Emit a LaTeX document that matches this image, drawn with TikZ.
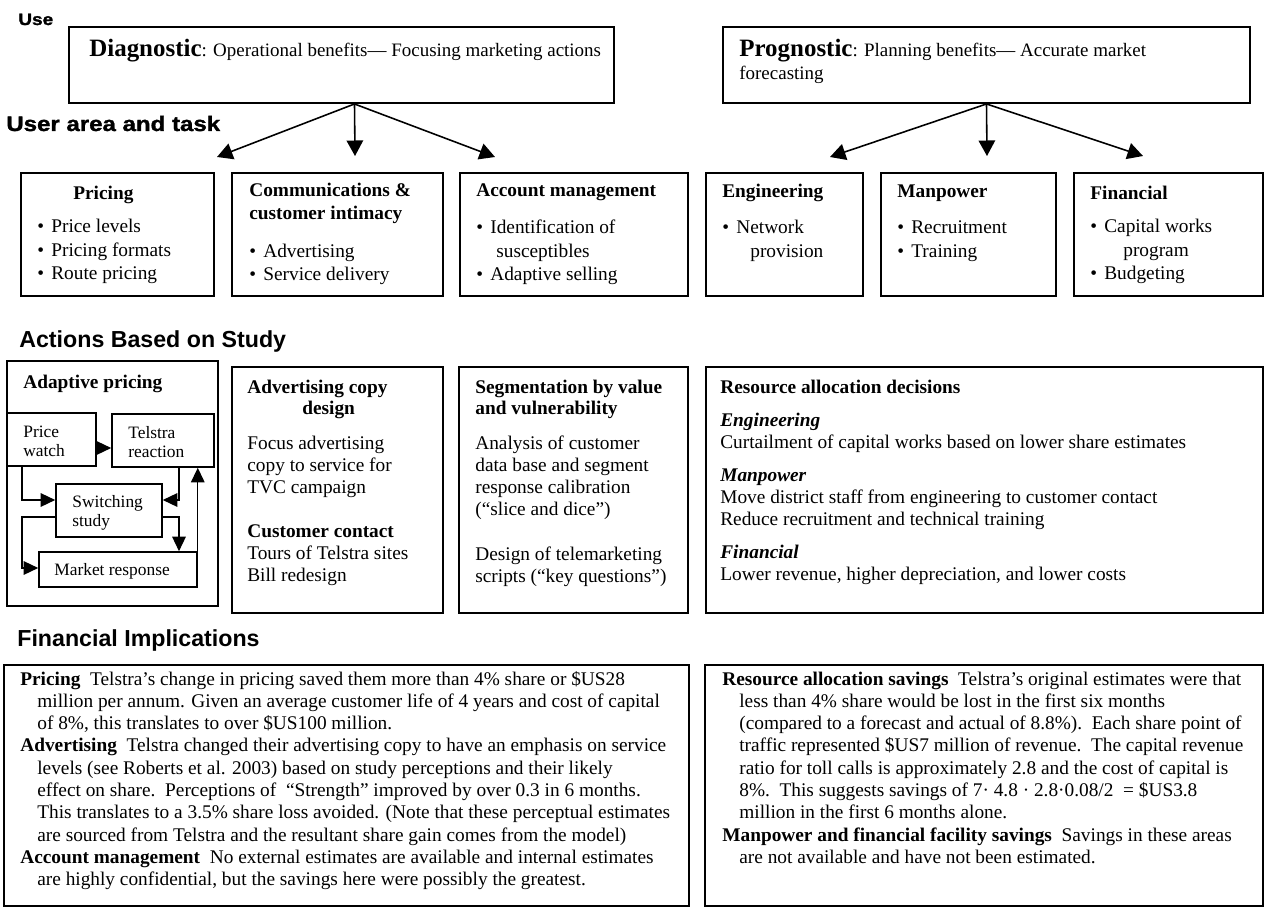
\documentclass[tikz,border=0pt]{standalone}
\usepackage{fontspec}
\setmainfont{Liberation Serif}
\setsansfont{Liberation Sans}
\newfontfamily\blackfont{Liberation Sans}[FakeStretch=1.15,BoldFeatures={FakeBold=1.5}]
\usetikzlibrary{arrows.meta,fit}
\newcommand{\kindname}[1]{{\bfseries\fontsize{14.2}{16}\selectfont #1}}
\newcommand{\bul}{\makebox[0.28cm][l]{\textbullet}}
\newcommand{\ind}{\hspace*{0.34cm}}
\newcommand{\lines}[1]{\begin{tabular}[t]{@{}l@{}}#1\end{tabular}}
\tikzset{
  panel/.style={draw, line width=1.1pt, inner sep=0pt, fit={#1}},
  cell/.style={draw, line width=0.9pt, inner sep=0pt, fit={#1}},
  txt/.style={inner sep=0pt, anchor=base west, font=\fontsize{11}{12.7}\selectfont},
  small/.style={txt, font=\fontsize{9.9}{11.3}\selectfont},
  head/.style={inner sep=0pt, anchor=base west, font=\sffamily\bfseries\fontsize{13.2}{15}\selectfont},
  heavy/.style={inner sep=0pt, anchor=base west, font=\blackfont\bfseries\fontsize{11.9}{14}\selectfont},
  arr/.style={-{Triangle[length=0.29cm,width=0.27cm]}, line width=0.8pt},
  bigarr/.style={-{Triangle[length=0.31cm,width=0.33cm]}, line width=0.9pt}
}
\begin{document}
\begin{tikzpicture}[x=0.02cm, y=-0.02cm]
\useasboundingbox (0,0) rectangle (1265,909);
% use
\node (use) [heavy, font=\blackfont\bfseries\fontsize{9.4}{11}\selectfont] at (18,25) {Use};
\node (diag) [panel={(69,27) (614,103)}] {};
\node (diagtxt) [txt, font=\fontsize{10.8}{13}\selectfont] at (89,57) {\kindname{Diagnostic}: Operational benefits— Focusing marketing actions};
\node (prog) [panel={(723,27) (1250,103)}] {};
\node (progtxt) [txt, font=\fontsize{10.8}{13}\selectfont] at (739,57) {\lines{\kindname{Prognostic}: Planning benefits— Accurate market\\forecasting}};
% user area and task
\node (area) [heavy] at (6,131) {User area and task};
\coordinate (d1) at (217,157);
\coordinate (d2) at (355,156);
\coordinate (d3) at (495,157);
\coordinate (p1) at (830,157);
\coordinate (p2) at (987,156);
\coordinate (p3) at (1143,156);
\draw[bigarr] ([xshift=0.26cm]diag.south) -- (d1);
\draw[bigarr] ([xshift=0.26cm]diag.south) -- (d2);
\draw[bigarr] ([xshift=0.26cm]diag.south) -- (d3);
\draw[bigarr] (prog.south) -- (p1);
\draw[bigarr] (prog.south) -- (p2);
\draw[bigarr] (prog.south) -- (p3);

\node (pricing) [panel={(21,173) (214,296)}] {};
\node (comm) [panel={(232,173) (443,296)}] {};
\node (acct) [panel={(460,173) (688,296)}] {};
\node (engg) [panel={(706,173) (863,296)}] {};
\node (manp) [panel={(881,173) (1056,296)}] {};
\node (fin) [panel={(1074,173) (1263,296)}] {};
\node (pricingt) [txt] at (73,199) {\textbf{Pricing}};
\node (pricingl) [txt, font=\fontsize{11}{13.3}\selectfont] at (37,233) {\lines{\bul Price levels\\\bul Pricing formats\\\bul Route pricing}};
\node (commt) [txt, font=\fontsize{11}{13.6}\selectfont] at (249,196) {\lines{\textbf{Communications \&}\\\textbf{customer intimacy}}};
\node (comml) [txt, font=\fontsize{11}{13.3}\selectfont] at (249,257) {\lines{\bul Advertising\\\bul Service delivery}};
\node (acctt) [txt] at (476,196) {\textbf{Account management}};
\node (acctl) [txt, font=\fontsize{11}{13.1}\selectfont] at (476,234) {\lines{\bul Identification of\\\hspace*{0.4cm}susceptibles\\\bul Adaptive selling}};
\node (enggt) [txt] at (722,197) {\textbf{Engineering}};
\node (enggl) [txt, font=\fontsize{11}{13.1}\selectfont] at (722,234) {\lines{\bul Network\\\hspace*{0.56cm}provision}};
\node (manpt) [txt] at (897,197) {\textbf{Manpower}};
\node (manpl) [txt, font=\fontsize{11}{13.1}\selectfont] at (897,234) {\lines{\bul Recruitment\\\bul Training}};
\node (fint) [txt] at (1090,199) {\textbf{Financial}};
\node (finl) [txt, font=\fontsize{11}{13.3}\selectfont] at (1090,233) {\lines{\bul Capital works\\\hspace*{0.66cm}program\\\bul Budgeting}};

% actions based on study
\node (actions) [head] at (19,347) {Actions Based on Study};
\node (adapt) [panel={(7,361) (218,606)}] {};
\node (adaptt) [txt] at (23,388) {\textbf{Adaptive pricing}};
\node (pw) [cell={(7,413) (96,466)}] {};
\node (tr) [cell={(112,414) (214,467)}] {};
\node (sw) [cell={(56,484) (162,537)}] {};
\node (mr) [cell={(39,552) (197,587)}] {};
\node (pwt) [small] at (23,437) {\lines{Price\\watch}};
\node (trt) [small] at (128,438) {\lines{Telstra\\reaction}};
\node (swt) [small] at (72,507) {\lines{Switching\\study}};
\node (mrt) [small] at (54,575) {Market response};
\draw[arr] (pw.east |- 0,448) -- (tr.west |- 0,448);
\draw[arr] (22,0 |- pw.south) |- (sw.west |- 0,500);
\draw[arr] (179,0 |- tr.south) |- (sw.east |- 0,500);
\draw[arr] (sw.east |- 0,517) -| (179,0 |- mr.north);
\draw[arr] (sw.west |- 0,517) -| (22,568) -- (mr.west |- 0,568);
\draw[arr] (mr.north east) -- (mr.north east |- tr.south);

\node (adv) [panel={(232,367) (443,613)}] {};
\node (advt) [txt, font=\fontsize{11}{12.1}\selectfont] at (247,393) {\lines{\textbf{Advertising copy}\\\hspace*{1.1cm}\textbf{design}}};
\node (advl) [txt, font=\fontsize{11}{12.6}\selectfont] at (247,449) {\lines{Focus advertising\\copy to service for\\TVC campaign\\[12.5pt]\textbf{Customer contact}\\Tours of Telstra sites\\Bill redesign}};
\node (seg) [panel={(459,367) (688,613)}] {};
\node (segt) [txt, font=\fontsize{11}{12.1}\selectfont] at (475,393) {\lines{\textbf{Segmentation by value}\\\textbf{and vulnerability}}};
\node (segl) [txt, font=\fontsize{11}{12.6}\selectfont] at (475,449) {\lines{Analysis of customer\\data base and segment\\response calibration\\(“slice and dice”)\\[12.8pt]Design of telemarketing\\scripts (“key questions”)}};
\node (res) [panel={(706,367) (1263,613)}] {};
\node (resl) [txt, font=\fontsize{11}{12.6}\selectfont] at (720,393) {\lines{\textbf{Resource allocation decisions}\\[6.2pt]
\textbf{\textit{Engineering}}\\
Curtailment of capital works based on lower share estimates\\[6.2pt]
\textbf{\textit{Manpower}}\\
Move district staff from engineering to customer contact\\
Reduce recruitment and technical training\\[6.2pt]
\textbf{\textit{Financial}}\\
Lower revenue, higher depreciation, and lower costs}};

% financial implications
\node (finimp) [head] at (17,646) {Financial Implications};
\node (left) [panel={(4,665) (689,906)}] {};
\node (leftl) [txt] at (20,685) {\lines{\textbf{Pricing}\ \ Telstra’s change in pricing saved them more than 4\% share or \$US28\\
\ind million per annum. Given an average customer life of 4 years and cost of capital\\
\ind of 8\%, this translates to over \$US100 million.\\
\textbf{Advertising}\ \ Telstra changed their advertising copy to have an emphasis on service\\
\ind levels (see Roberts et al. 2003) based on study perceptions and their likely\\
\ind effect on share.\ \ Perceptions of\ \ “Strength” improved by over 0.3 in 6 months.\\
\ind This translates to a 3.5\% share loss avoided. (Note that these perceptual estimates\\
\ind are sourced from Telstra and the resultant share gain comes from the model)\\
\textbf{Account management}\ \ No external estimates are available and internal estimates\\
\ind are highly confidential, but the savings here were possibly the greatest.}};
\node (right) [panel={(705,665) (1263,906)}] {};
\node (rightl) [txt] at (722,685) {\lines{\textbf{Resource allocation savings}\ \ Telstra’s original estimates were that\\
\ind less than 4\% share would be lost in the first six months\\
\ind (compared to a forecast and actual of 8.8\%).\ \ Each share point of\\
\ind traffic represented \$US7 million of revenue.\ \ The capital revenue\\
\ind ratio for toll calls is approximately 2.8 and the cost of capital is\\
\ind 8\%.\ \ This suggests savings of 7· 4.8 · 2.8·0.08/2\ \ = \$US3.8\\
\ind million in the first 6 months alone.\\
\textbf{Manpower and financial facility savings}\ \ Savings in these areas\\
\ind are not available and have not been estimated.}};
\end{tikzpicture}
\end{document}
